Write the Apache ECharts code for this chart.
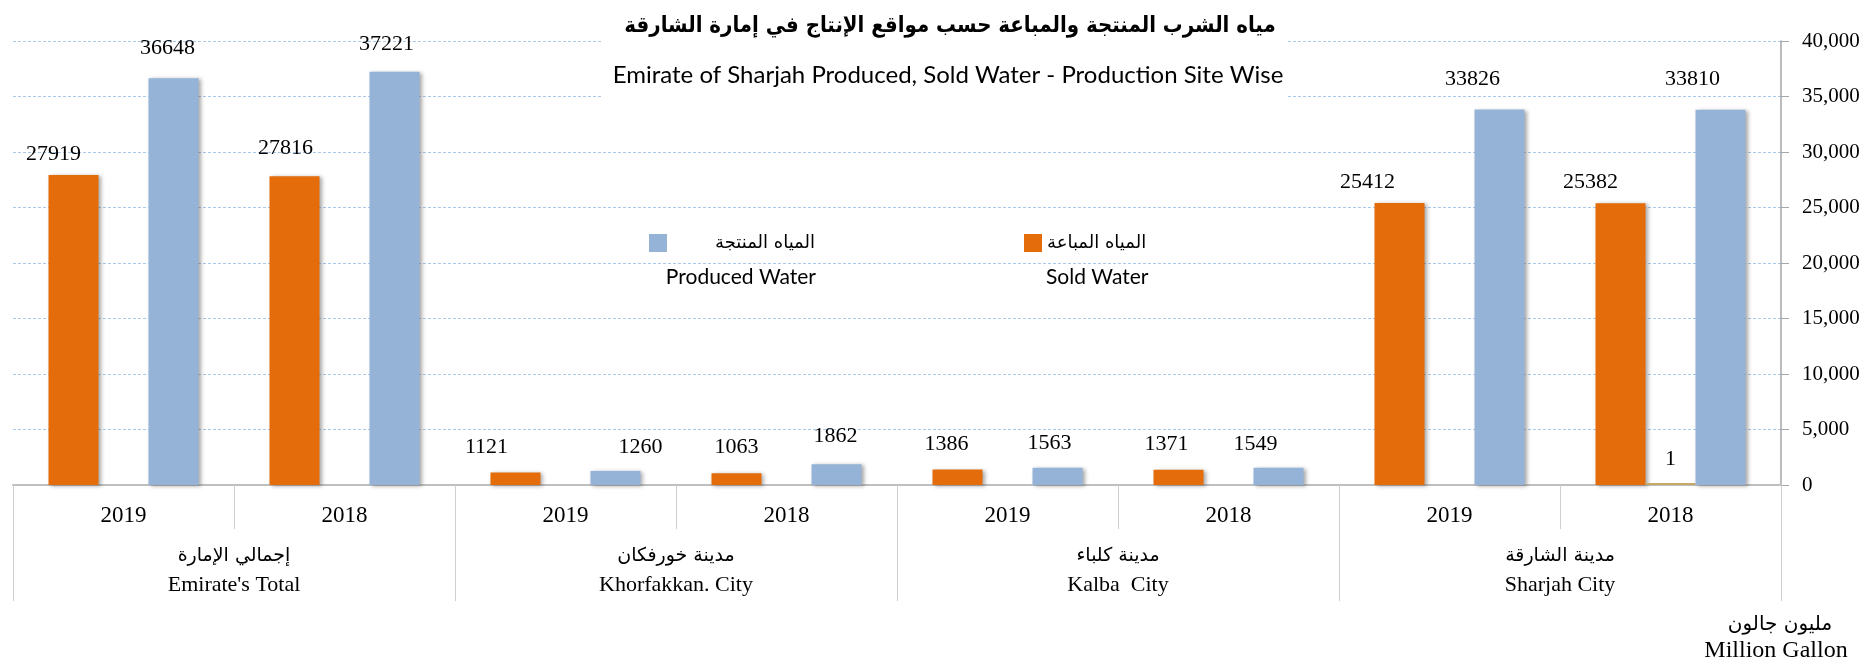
<!DOCTYPE html>
<html>
<head>
<meta charset="utf-8">
<script src="https://cdn.jsdelivr.net/npm/echarts@6/dist/echarts.min.js"></script>
<style>
  html, body { margin: 0; padding: 0; background: #fff; }
  #chart { width: 1870px; height: 663px; }
</style>
</head>
<body>
<div id="chart"></div>
<script>
// data (million gallon)
var years = ['2019', '2018', '2019', '2018', '2019', '2018', '2019', '2018']
var groupsAr = ['إجمالي الإمارة', 'مدينة خورفكان', 'مدينة كلباء', 'مدينة الشارقة']
var groupsEn = ["Emirate's Total", 'Khorfakkan. City', 'Kalba  City', 'Sharjah City']
var soldWater = [27919, 27816, 1121, 1063, 1386, 1371, 25412, 25382]
var producedWater = [36648, 37221, 1260, 1862, 1563, 1549, 33826, 33810]
var otherWater = [null, null, null, null, null, null, null, 1]
var yMin = 0
var yMax = 40000
var yStep = 5000

// label nudges (the labels in the source were moved by hand)
var soldShift = [[-20, 4], [-9, -3], [-29, 0], [0, -1], [-11, 0], [-12, -1], [-32, 4], [-30, 4]]
var producedShift = [[-6, -5], [-8, -3], [25, 1], [-1, -3], [-8, 1], [-23, 1], [-27, -5], [-28, -5]]

var serif = 'Liberation Serif'
var arFont = 'DejaVu Sans'
var arTitleFont = '"DejaVu Sans Condensed", "DejaVu Sans"'
var sans = 'Lato'
var barShadow = {
  shadowColor: 'rgba(0,0,0,0.35)',
  shadowBlur: 4,
  shadowOffsetX: 2,
  shadowOffsetY: 1
}

function withShift (vals, shifts) {
  return vals.map(function (v, i) {
    return { value: v, label: { offset: shifts[i] } }
  })
}

var chart = echarts.init(document.getElementById('chart'))

var valueLabel = {
  show: true,
  position: 'top',
  distance: 14,
  color: '#000',
  fontFamily: serif,
  fontSize: 22
}

var option = {
  animation: false,
  backgroundColor: '#fff',
  title: [{
    text: 'مياه الشرب المنتجة والمباعة حسب مواقع الإنتاج في إمارة الشارقة',
    left: 945,
    top: 10,
    textAlign: 'center',
    textStyle: { fontFamily: arTitleFont, fontSize: 22, fontWeight: 'bold', color: '#000' }
  }, {
    text: 'Emirate of Sharjah Produced, Sold Water - Production Site Wise',
    left: 943,
    top: 58,
    textAlign: 'center',
    textStyle: { fontFamily: sans, fontSize: 24, fontWeight: 'normal', color: '#000' }
  }],
  legend: [{
    data: ['المياه المنتجة'],
    left: 644,
    top: 229,
    icon: 'rect',
    itemWidth: 18,
    itemHeight: 18,
    selectedMode: false,
    textStyle: { fontFamily: arFont, fontSize: 18, color: '#000', padding: [0, 0, 0, 43] }
  }, {
    data: ['المياه المباعة'],
    left: 1019,
    top: 229,
    icon: 'rect',
    itemWidth: 18,
    itemHeight: 18,
    selectedMode: false,
    textStyle: { fontFamily: arFont, fontSize: 18, color: '#000' }
  }],
  graphic: [{
    type: 'rect',
    z: 1,
    shape: { x: 602, y: 0, width: 686, height: 110 },
    style: { fill: '#fff' }
  }, {
    type: 'text',
    x: 816,
    y: 277,
    style: { text: 'Produced Water', fill: '#000', font: '21px ' + sans, textAlign: 'right', textVerticalAlign: 'middle' }
  }, {
    type: 'text',
    x: 1046,
    y: 277,
    style: { text: 'Sold Water', fill: '#000', font: '21px ' + sans, textAlign: 'left', textVerticalAlign: 'middle' }
  }, {
    type: 'text',
    x: 1780,
    y: 625,
    style: { text: 'مليون جالون', fill: '#000', font: '20px ' + arFont, textAlign: 'center', textVerticalAlign: 'middle' }
  }, {
    type: 'text',
    x: 1776,
    y: 651,
    style: { text: 'Million Gallon', fill: '#000', font: '24px ' + serif, textAlign: 'center', textVerticalAlign: 'middle' }
  }],
  grid: { left: 13, right: 89, top: 41, bottom: 178 },
  xAxis: [{
    type: 'category',
    data: years,
    position: 'bottom',
    axisLine: { lineStyle: { color: '#bfbfbf', width: 2 } },
    axisTick: { show: true, interval: 0, length: 44, lineStyle: { color: '#cfcfcf', width: 1 } },
    axisLabel: { interval: 0, margin: 19, color: '#000', fontFamily: serif, fontSize: 23 }
  }, {
    type: 'category',
    data: groupsAr.map(function (g, i) { return '{ar|' + g + '}\n{en|' + groupsEn[i] + '}' }),
    position: 'bottom',
    axisLine: { show: false },
    axisTick: { show: true, interval: 0, length: 116, lineStyle: { color: '#cfcfcf', width: 1 } },
    axisLabel: {
      interval: 0,
      margin: 56,
      color: '#000',
      rich: {
        ar: { fontFamily: arFont, fontSize: 19, lineHeight: 30, color: '#000' },
        en: { fontFamily: serif, fontSize: 22, lineHeight: 28, color: '#000' }
      }
    }
  }],
  yAxis: {
    type: 'value',
    position: 'right',
    min: yMin,
    max: yMax,
    interval: yStep,
    axisLine: { show: true, lineStyle: { color: '#a6a6a6', width: 1.5 } },
    axisTick: { show: true, length: 8, lineStyle: { color: '#a6a6a6' } },
    axisLabel: {
      margin: 21,
      color: '#000',
      fontFamily: serif,
      fontSize: 21,
      formatter: function (v) { return v.toLocaleString('en-US') }
    },
    splitLine: { show: true, lineStyle: { color: '#a9c9ea', type: [3, 2], width: 1 } }
  },
  series: [{
    name: 'المياه المباعة',
    type: 'bar',
    barWidth: 50,
    barGap: '0%',
    itemStyle: Object.assign({ color: '#e46c0a' }, barShadow),
    label: valueLabel,
    data: withShift(soldWater, soldShift)
  }, {
    name: 'other',
    type: 'bar',
    barWidth: 50,
    barGap: '0%',
    barMinHeight: 2,
    itemStyle: { color: '#c4a866' },
    label: Object.assign({}, valueLabel, { distance: 13 }),
    data: otherWater
  }, {
    name: 'المياه المنتجة',
    type: 'bar',
    barWidth: 50,
    barGap: '0%',
    itemStyle: Object.assign({ color: '#95b3d7' }, barShadow),
    label: valueLabel,
    data: withShift(producedWater, producedShift)
  }]
}

chart.setOption(option)
</script>
</body>
</html>
